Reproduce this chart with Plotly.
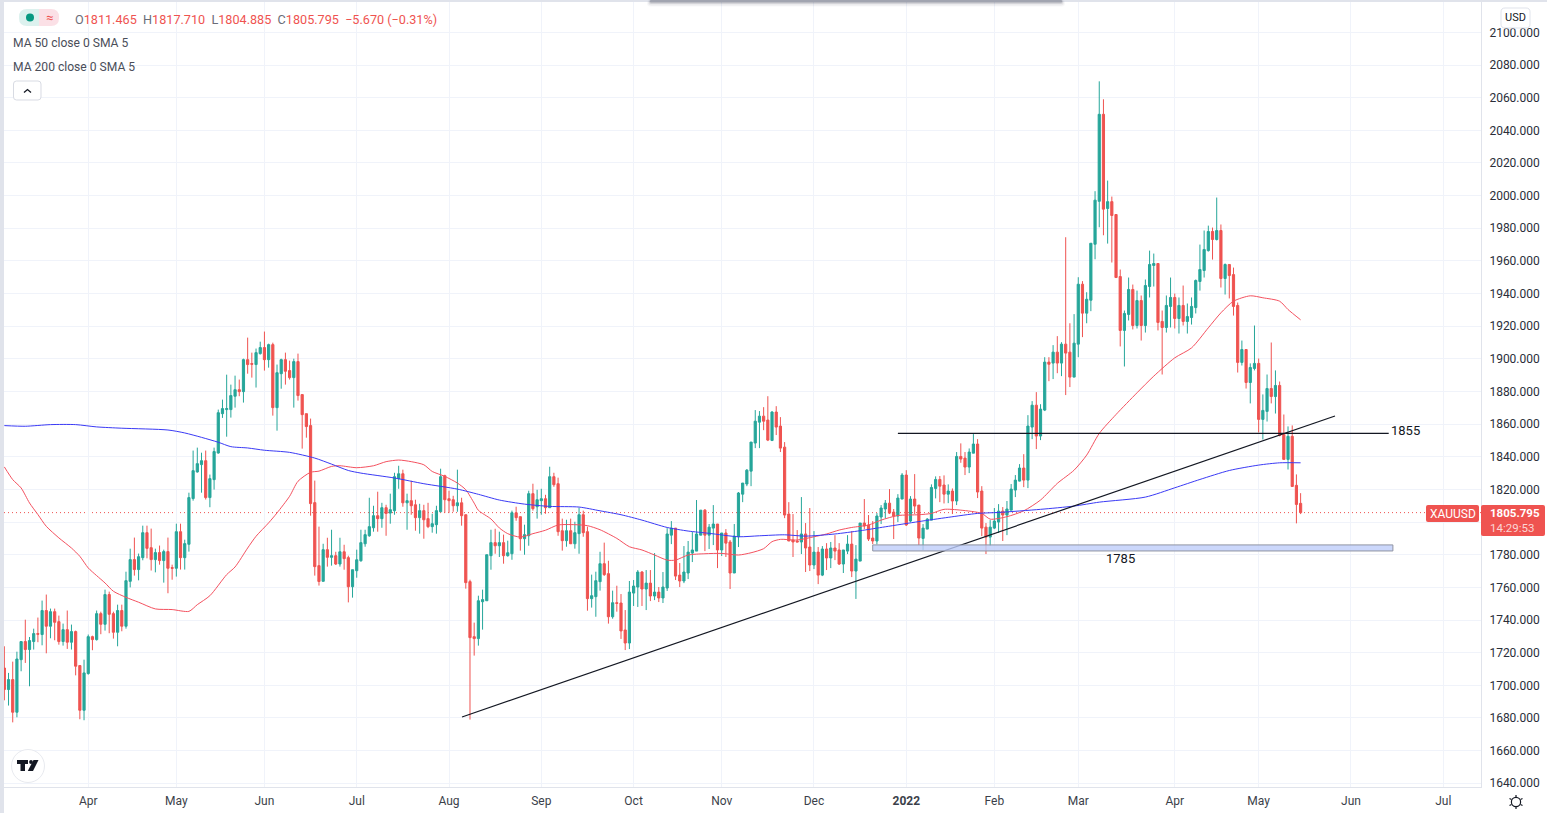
import numpy as np
import plotly.graph_objects as go

# ---- data: daily XAUUSD sessions ----
opens = [
1710.6,1697.4,1703.5,1683.5,1715.7,1726.8,1721.9,1726.8,1731.7,1731.1,
1745.8,1736.2,1745.1,1739.0,1726.8,1734.1,1726.4,1732.9,1712.1,1684.7,
1707.2,1729.8,1728.0,1743.9,1737.4,1755.6,1743.9,1732.5,1745.8,1736.2,
1763.7,1777.0,1770.9,1778.2,1793.5,1784.3,1777.0,1781.3,1776.4,1781.9,
1772.1,1771.7,1794.1,1778.2,1786.4,1814.4,1830.7,1835.2,1837.6,1815.0,
1826.0,1842.3,1866.4,1868.9,1868.9,1877.1,1881.1,1879.9,1899.5,1897.1,
1896.5,1903.2,1906.9,1899.5,1908.7,1870.1,1890.9,1899.5,1892.8,1888.5,
1898.3,1878.1,1866.4,1859.1,1811.9,1773.3,1763.7,1783.1,1778.4,1779.4,
1774.3,1781.8,1778.2,1760.4,1770.2,1776.3,1786.7,1791.6,1796.5,1803.9,
1802.1,1808.8,1805.5,1807.0,1826.5,1829.6,1811.8,1813.1,1810.6,1802.7,
1807.0,1802.1,1797.2,1798.4,1806.3,1828.4,1814.3,1813.7,1810.0,1811.8,
1804.5,1763.5,1729.8,1728.6,1751.2,1751.8,1779.4,1787.4,1785.5,1787.4,
1779.4,1780.6,1805.7,1803.3,1789.8,1791.6,1817.4,1809.4,1813.1,1814.3,
1808.8,1827.8,1823.5,1794.7,1788.6,1794.7,1786.7,1792.9,1804.5,1794.1,
1753.1,1754.3,1763.5,1774.5,1768.4,1742.0,1750.6,1750.4,1733.9,1725.9,
1756.5,1760.2,1769.4,1759.0,1762.6,1754.7,1757.1,1753.5,1759.6,1792.0,
1796.3,1767.5,1763.9,1768.8,1781.0,1782.2,1792.0,1807.3,1792.0,1796.3,
1798.8,1782.9,1793.3,1787.8,1768.8,1791.0,1817.1,1823.3,1831.2,1848.4,
1861.2,1864.9,1862.5,1850.0,1867.4,1858.8,1845.9,1804.9,1789.0,1788.4,
1787.8,1792.7,1784.7,1773.7,1781.6,1767.5,1783.5,1778.0,1784.1,1782.9,
1774.3,1782.2,1786.5,1770.0,1776.1,1799.4,1798.2,1790.2,1788.4,1803.1,
1808.0,1811.6,1806.1,1803.7,1814.1,1828.8,1800.6,1814.1,1810.4,1790.0,
1795.7,1801.2,1820.6,1826.1,1822.7,1817.1,1819.0,1812.9,1840.2,1839.2,
1833.7,1842.2,1847.8,1819.0,1796.9,1790.8,1796.3,1800.0,1806.7,1804.3,
1807.3,1819.6,1825.1,1833.1,1825.7,1858.2,1871.6,1852.7,1868.6,1898.0,
1897.4,1904.1,1897.4,1909.0,1904.1,1888.8,1909.0,1945.7,1928.0,1935.9,
1970.2,1996.5,2049.8,1992.1,1996.3,1988.4,1950.4,1917.4,1927.2,1942.5,
1920.4,1935.7,1920.4,1944.3,1957.2,1958.4,1922.9,1919.2,1932.1,1937.6,
1924.7,1932.7,1922.9,1925.3,1931.4,1947.4,1954.1,1966.3,1978.0,1973.1,
1978.6,1949.2,1957.8,1951.6,1932.7,1897.8,1905.7,1885.5,1894.1,1897.2,
1862.9,1867.8,1881.8,1876.9,1883.7,1853.7,1838.4,1852.5,1822.5,1811.465,
]
highs = [
1723.9,1707.6,1714.5,1720.6,1726.8,1740.2,1729.6,1734.7,1741.5,1751.9,
1755.6,1747.0,1747.0,1742.7,1737.8,1745.8,1737.2,1733.5,1712.1,1715.7,
1731.1,1730.4,1745.8,1745.1,1758.6,1757.4,1745.1,1749.4,1749.4,1769.6,
1783.7,1790.5,1780.7,1797.8,1797.8,1796.0,1783.7,1785.6,1783.1,1790.5,
1773.9,1799.0,1799.0,1789.2,1818.0,1843.8,1845.6,1842.5,1843.8,1829.1,
1845.6,1868.9,1875.0,1890.3,1884.2,1889.7,1887.3,1900.1,1913.0,1903.8,
1906.3,1910.5,1916.7,1909.3,1909.9,1896.5,1900.1,1903.8,1898.9,1900.1,
1903.2,1878.1,1866.4,1863.4,1825.4,1797.2,1786.7,1790.4,1795.3,1781.8,
1790.4,1786.1,1779.4,1770.8,1783.1,1795.3,1795.3,1814.9,1810.0,1818.6,
1811.8,1810.6,1817.4,1830.2,1834.5,1832.1,1817.4,1825.3,1813.7,1811.2,
1810.6,1811.8,1805.1,1810.0,1832.7,1829.0,1819.2,1816.1,1832.1,1814.9,
1804.5,1764.7,1738.4,1754.9,1758.6,1780.0,1795.3,1795.9,1794.1,1792.3,
1788.6,1807.0,1809.4,1803.3,1798.4,1819.2,1823.5,1819.8,1820.4,1816.7,
1833.9,1830.2,1827.2,1802.1,1801.4,1802.1,1800.2,1808.8,1807.0,1797.2,
1767.8,1769.6,1781.8,1787.4,1776.3,1758.0,1761.0,1755.9,1746.1,1763.9,
1764.5,1770.6,1770.0,1770.6,1770.6,1781.0,1760.2,1769.4,1796.3,1800.6,
1796.3,1774.9,1785.3,1788.4,1793.9,1813.5,1807.3,1808.0,1798.8,1810.4,
1798.8,1793.3,1795.7,1789.0,1798.8,1818.4,1823.9,1832.5,1849.0,1868.6,
1868.0,1870.4,1877.1,1868.0,1871.0,1864.3,1849.0,1812.2,1804.9,1795.1,
1815.3,1799.4,1808.6,1794.5,1784.7,1785.3,1787.1,1787.8,1792.0,1787.1,
1782.9,1792.0,1794.5,1785.9,1799.4,1814.1,1804.3,1800.6,1805.5,1810.4,
1813.5,1820.2,1808.0,1817.1,1830.0,1831.8,1815.9,1829.4,1810.4,1798.8,
1802.4,1823.1,1828.0,1828.2,1828.6,1823.1,1820.6,1842.9,1848.2,1842.9,
1845.1,1853.9,1850.8,1822.0,1799.4,1801.2,1808.6,1811.0,1809.2,1812.9,
1823.3,1828.8,1835.5,1841.6,1865.5,1874.1,1879.6,1872.2,1901.0,1901.0,
1908.4,1913.9,1910.2,1974.5,1921.8,1927.4,1950.0,1947.6,1940.8,1970.8,
2002.7,2070.0,2059.0,2009.2,1999.4,1988.4,1954.7,1929.6,1949.8,1945.5,
1941.8,1938.8,1948.6,1966.3,1964.5,1958.4,1929.6,1938.8,1949.8,1940.0,
1937.6,1944.9,1933.9,1937.6,1948.6,1970.0,1978.6,1981.6,1980.4,1998.8,
1982.3,1958.4,1957.8,1955.9,1934.5,1911.2,1905.7,1897.2,1920.4,1900.2,
1878.2,1890.4,1910.0,1892.9,1886.1,1865.9,1858.6,1859.2,1829.2,1817.71,
]
lows = [
1690.8,1687.6,1677.3,1680.4,1708.6,1713.7,1699.4,1721.9,1726.4,1724.5,
1719.6,1728.8,1727.6,1724.9,1724.3,1722.3,1721.9,1706.1,1679.2,1678.6,
1706.5,1721.5,1727.4,1731.3,1733.5,1731.9,1728.6,1723.9,1733.1,1734.7,
1760.0,1767.2,1764.3,1776.6,1777.8,1770.3,1769.2,1773.9,1762.9,1756.4,
1764.7,1766.6,1770.9,1770.9,1781.9,1813.1,1830.3,1818.0,1813.8,1809.1,
1819.9,1841.9,1863.8,1852.3,1864.0,1870.1,1877.1,1873.2,1890.9,1888.5,
1882.4,1902.6,1892.8,1894.6,1865.2,1856.0,1881.7,1884.2,1887.3,1870.1,
1874.4,1845.0,1851.7,1803.9,1767.2,1761.1,1763.7,1772.7,1773.3,1773.7,
1772.7,1770.8,1750.8,1753.7,1765.9,1775.7,1784.9,1791.0,1794.1,1794.1,
1796.5,1791.6,1799.0,1804.5,1820.4,1809.4,1795.3,1804.5,1794.7,1792.9,
1789.8,1796.3,1793.5,1792.9,1806.3,1805.7,1805.7,1806.3,1806.3,1797.8,
1759.2,1679.0,1718.2,1724.3,1734.1,1751.8,1770.8,1780.6,1778.6,1774.5,
1778.8,1776.9,1800.8,1782.5,1780.0,1785.5,1807.0,1802.1,1804.5,1805.1,
1808.8,1821.6,1791.6,1782.5,1784.9,1786.7,1783.7,1780.6,1791.0,1745.7,
1747.6,1742.0,1758.0,1767.0,1737.8,1740.8,1745.1,1728.4,1721.6,1722.2,
1748.6,1748.0,1748.6,1746.1,1751.6,1752.2,1751.0,1750.4,1757.8,1786.5,
1764.5,1760.2,1762.6,1765.1,1775.5,1782.2,1792.0,1782.2,1783.5,1785.9,
1771.8,1779.2,1778.6,1759.0,1768.8,1784.7,1812.2,1822.0,1822.0,1845.3,
1845.3,1856.3,1849.6,1849.6,1853.3,1842.9,1802.4,1788.4,1778.6,1787.8,
1780.4,1769.4,1770.0,1771.2,1762.0,1766.9,1770.6,1771.8,1776.7,1773.7,
1768.8,1780.4,1766.3,1752.9,1776.1,1795.7,1788.4,1786.5,1786.3,1798.8,
1802.2,1804.9,1789.6,1800.0,1814.1,1797.6,1800.0,1804.9,1785.9,1782.9,
1795.7,1801.2,1814.5,1812.2,1811.4,1811.6,1804.9,1810.4,1836.3,1828.8,
1830.0,1842.2,1814.7,1791.4,1780.4,1785.3,1795.7,1793.3,1788.4,1792.0,
1807.3,1815.3,1824.9,1821.4,1820.8,1850.8,1844.7,1850.2,1868.0,1886.3,
1887.6,1891.2,1889.4,1877.8,1882.7,1888.8,1901.0,1913.3,1921.8,1929.2,
1961.0,1980.6,1975.7,1970.6,1959.0,1949.8,1907.6,1895.3,1923.5,1918.0,
1918.6,1911.2,1916.1,1937.6,1944.3,1917.4,1890.4,1916.1,1919.2,1918.6,
1915.5,1920.4,1915.5,1921.0,1927.8,1941.8,1949.8,1965.7,1960.8,1972.5,
1943.7,1939.4,1937.0,1926.5,1891.6,1895.9,1881.8,1872.7,1892.9,1854.9,
1850.6,1861.6,1872.7,1866.5,1852.5,1838.4,1832.2,1821.8,1799.2,1804.885,
]
closes = [
1697.4,1703.5,1683.5,1716.1,1726.8,1721.9,1727.4,1731.7,1731.3,1745.8,
1736.2,1745.1,1738.6,1726.8,1734.1,1726.4,1732.9,1711.7,1684.7,1707.6,
1729.8,1728.0,1743.9,1737.4,1755.6,1743.5,1732.5,1745.8,1736.2,1764.1,
1777.0,1770.9,1778.8,1793.5,1783.9,1777.0,1781.3,1776.4,1781.9,1771.7,
1771.7,1794.1,1778.2,1786.8,1815.0,1831.5,1835.8,1837.6,1815.0,1826.6,
1843.2,1867.0,1869.5,1869.5,1877.5,1881.1,1879.9,1899.5,1896.5,1896.7,
1903.8,1906.9,1899.5,1908.7,1870.1,1891.5,1899.5,1892.4,1888.5,1898.3,
1877.5,1865.8,1858.5,1811.3,1772.7,1763.6,1783.1,1778.4,1779.4,1774.3,
1781.8,1777.6,1760.4,1770.8,1776.9,1787.4,1792.3,1797.2,1803.9,1802.1,
1808.8,1805.3,1807.6,1827.8,1829.6,1811.8,1813.1,1810.0,1802.7,1807.0,
1801.4,1797.2,1799.0,1807.0,1827.8,1813.7,1813.1,1810.0,1811.8,1803.9,
1762.9,1729.2,1728.6,1751.8,1752.5,1780.0,1787.4,1785.5,1787.4,1779.4,
1781.2,1805.7,1802.7,1789.8,1792.3,1817.4,1808.2,1813.7,1814.3,1808.8,
1827.8,1822.9,1794.1,1788.6,1794.7,1786.7,1793.5,1804.5,1793.5,1753.1,
1754.9,1764.1,1774.5,1767.8,1742.0,1750.6,1750.2,1733.3,1725.9,1757.1,
1760.8,1769.4,1759.0,1762.6,1754.7,1757.1,1753.5,1760.2,1792.7,1796.3,
1766.9,1763.9,1769.4,1781.6,1782.9,1792.7,1807.3,1792.0,1796.9,1798.8,
1782.9,1793.3,1787.1,1768.8,1791.4,1817.8,1823.9,1831.8,1849.0,1861.8,
1864.9,1861.8,1850.2,1867.4,1858.2,1845.3,1804.3,1788.4,1787.8,1787.8,
1792.7,1784.1,1773.7,1781.6,1767.5,1783.5,1778.0,1784.1,1782.2,1774.3,
1782.9,1786.5,1770.0,1777.3,1799.4,1797.6,1789.6,1788.4,1803.7,1808.6,
1811.6,1805.5,1803.7,1814.7,1828.8,1798.2,1814.1,1809.8,1790.2,1796.3,
1801.8,1821.2,1826.1,1822.0,1817.1,1819.0,1812.9,1840.2,1838.6,1833.7,
1842.9,1847.8,1818.4,1796.3,1790.8,1796.9,1800.6,1806.7,1804.3,1808.0,
1820.2,1825.7,1833.1,1825.7,1858.8,1871.6,1852.7,1869.2,1898.0,1896.7,
1904.1,1897.4,1909.0,1903.5,1888.8,1909.6,1945.7,1928.0,1936.5,1970.8,
1997.2,2049.8,1991.7,1996.3,1987.8,1949.8,1917.4,1927.8,1942.5,1920.4,
1935.7,1920.4,1944.9,1957.8,1958.4,1922.3,1919.2,1932.7,1937.6,1924.7,
1932.7,1922.9,1925.9,1932.1,1948.0,1954.7,1967.0,1978.0,1973.1,1978.6,
1949.2,1957.8,1951.0,1932.1,1897.8,1905.7,1885.5,1894.7,1897.2,1862.9,
1868.4,1881.8,1876.9,1883.7,1853.1,1838.4,1852.5,1821.8,1810.8,1805.795,
]
sessions = list(range(len(closes)))

ma50_sessions = [0,2,4,6,8,10,13,16,18,20,22,24,26,29,32,36,40,44,46,49,53,55,58,60,63,65,68,70,73,75,78,80,84,88,91,94,97,100,102,105,108,110,112,113,116,118,120,123,126,129,132,136,139,142,146,149,152,155,158,160,163,167,171,175,178,181,183,185,189,193,196,199,202,206,209,213,218,221,224,228,233,235,239,243,247,251,255,258,261,265,270,274,279,283,287,290,293,297,300,304,306,309]
ma50_values = [1833.8,1826.0,1820.9,1811.7,1804.6,1797.4,1790.3,1784.1,1779.0,1771.9,1767.2,1762.7,1757.6,1753.9,1750.9,1746.8,1746.4,1745.3,1749.4,1754.9,1767.8,1772.5,1784.1,1791.3,1799.5,1805.6,1815.8,1825.0,1830.5,1831.2,1834.1,1834.5,1833.3,1834.5,1837.0,1838.0,1837.0,1835.1,1831.0,1828.0,1823.9,1819.8,1811.6,1807.2,1801.9,1796.4,1792.9,1790.8,1792.9,1795.0,1798.2,1798.4,1797.8,1795.3,1790.0,1784.9,1782.9,1779.8,1776.7,1776.7,1779.8,1780.6,1780.8,1779.8,1781.2,1783.7,1788.0,1789.4,1789.0,1791.0,1792.7,1795.1,1796.7,1798.2,1801.2,1804.0,1804.5,1805.3,1807.8,1807.3,1805.3,1801.8,1803.3,1806.9,1813.5,1823.7,1831.8,1841.0,1854.3,1865.9,1879.2,1889.4,1900.6,1906.7,1919.0,1928.2,1935.3,1938.6,1937.4,1935.3,1930.2,1923.9]

ma200_sessions = [0,5,11,17,22,28,39,43,47,51,54,58,62,68,74,78,82,85,93,100,108,113,118,124,130,137,142,147,152,158,163,168,175,180,186,191,198,204,210,218,225,232,237,247,255,261,272,279,285,292,299,304,309]
ma200_values = [1859.1,1858.7,1859.7,1859.7,1858.3,1857.5,1856.4,1854.6,1851.9,1848.9,1846.2,1845.4,1844.0,1842.7,1839.2,1835.5,1831.6,1830.0,1827.0,1823.5,1820.2,1817.0,1813.5,1811.0,1809.6,1809.2,1806.9,1804.5,1801.2,1796.7,1794.5,1793.1,1791.0,1791.6,1792.2,1791.4,1792.7,1794.7,1797.1,1800.3,1802.9,1805.3,1805.9,1807.8,1809.8,1812.2,1815.3,1821.0,1826.1,1831.6,1834.9,1836.3,1836.3]

month_sessions = [20,41,62,84,106,128,150,171,193,215,236,256,279,299,321,343]
month_labels = ["Apr","May","Jun","Jul","Aug","Sep","Oct","Nov","Dec","<b>2022</b>","Feb","Mar","Apr","May","Jun","Jul"]
price_ticks = list(range(1640, 2101, 20))

support_level = 1855
support_label = "1855"
zone_low, zone_high = 1782.3, 1786.0
zone_label = "1785"
last_price = 1805.795

# ---- layout geometry (pixels of the 1547x813 page) ----
W, H = 1547, 813
L, R, T, B = 4, 1481, 2, 787
FONT = "Roboto, sans-serif"
def px(v): return (v - L) / (R - L)
def py(v): return 1 - (v - T) / (B - T)

UP, DOWN = "#26a69a", "#ef5350"
TXT = "#131722"
GREY = "#6a6d78"

fig = go.Figure()
fig.add_trace(go.Candlestick(
    x=sessions, open=opens, high=highs, low=lows, close=closes,
    increasing=dict(line=dict(color=UP, width=1), fillcolor=UP),
    decreasing=dict(line=dict(color=DOWN, width=1), fillcolor=DOWN),
    whiskerwidth=0, showlegend=False, hoverinfo="skip"))
fig.add_trace(go.Scatter(x=ma50_sessions, y=ma50_values, mode="lines", showlegend=False,
                         line=dict(color="#f4515f", width=1, shape="spline", smoothing=0.7), hoverinfo="skip"))
fig.add_trace(go.Scatter(x=ma200_sessions, y=ma200_values, mode="lines", showlegend=False,
                         line=dict(color="#3a3af5", width=1, shape="spline", smoothing=0.7), hoverinfo="skip"))

def paper_rect(x0, y0, x1, y1, **kw):
    return dict(type="rect", xref="paper", yref="paper", x0=px(x0), x1=px(x1), y0=py(y0), y1=py(y1), **kw)

def paper_path(points, close=True, **kw):
    d = "M " + " L ".join(f"{px(a):.5f} {py(b):.5f}" for a, b in points) + (" Z" if close else "")
    return dict(type="path", xref="paper", yref="paper", path=d, **kw)

def paper_circle(cx, cy, r, **kw):
    return dict(type="circle", xref="paper", yref="paper", x0=px(cx - r), x1=px(cx + r),
                y0=py(cy + r), y1=py(cy - r), **kw)

def round_rect(x0, y0, x1, y1, r, **kw):
    pts = [("M", x0 + r, y0), ("L", x1 - r, y0), ("Q", x1, y0, x1, y0 + r), ("L", x1, y1 - r),
           ("Q", x1, y1, x1 - r, y1), ("L", x0 + r, y1), ("Q", x0, y1, x0, y1 - r), ("L", x0, y0 + r),
           ("Q", x0, y0, x0 + r, y0)]
    d = ""
    for p in pts:
        coords = p[1:]
        d += p[0] + " " + " ".join(f"{px(coords[i]):.5f} {py(coords[i + 1]):.5f}" for i in range(0, len(coords), 2)) + " "
    return dict(type="path", xref="paper", yref="paper", path=d + "Z", **kw)

noline = dict(width=0)
shapes = [
    # page frame
    paper_rect(0, 0, 4, H, fillcolor="#e0e3eb", line=noline, layer="below"),
    paper_rect(0, 0, W, 2, fillcolor="#e0e3eb", line=noline, layer="below"),
    # panel shadow at the top
    round_rect(647, 0, 1065, 6.5, 3, fillcolor="rgba(70,73,90,0.04)", line=noline),
    round_rect(648, 0, 1064, 5.5, 3, fillcolor="rgba(70,73,90,0.07)", line=noline),
    round_rect(649, 0, 1063, 4, 2, fillcolor="rgba(70,73,90,0.14)", line=noline),
    round_rect(650, 0, 1062, 2.8, 1, fillcolor="rgba(70,73,90,0.22)", line=noline),
    # last price line
    dict(type="line", xref="paper", yref="y", x0=0, x1=1, y0=last_price, y1=last_price,
         line=dict(color=DOWN, width=1, dash="1px,3px"), layer="below"),
    # drawings
    dict(type="line", xref="x", yref="y", x0=109.1, x1=317.2, y0=1680.6, y1=1865.0,
         line=dict(color="#131722", width=1.2)),
    dict(type="line", xref="x", yref="y", x0=213, x1=330, y0=support_level - 0.7, y1=support_level - 0.7,
         line=dict(color="#131722", width=1.2)),
    dict(type="rect", xref="x", yref="y", x0=207, x1=331, y0=zone_low, y1=zone_high,
         fillcolor="rgba(190,205,250,0.8)", line=dict(color="#8f93a2", width=1)),
    # price tags
    round_rect(1426, 505, 1479, 522, 2, fillcolor=DOWN, line=noline),
    round_rect(1481, 505, 1545, 536, 2, fillcolor=DOWN, line=noline),
    # legend pill
    round_rect(19, 9, 50, 26, 8, fillcolor="#dcf1ee", line=noline),
    round_rect(30, 9, 59, 26, 8, fillcolor="#fbe0e6", line=noline),
    paper_rect(27, 9, 39, 26, fillcolor="#dcf1ee", line=noline),
    paper_circle(30, 17.5, 4, fillcolor="#089981", line=noline),
    # collapse button
    round_rect(13.5, 81, 41, 100, 3, fillcolor="white", line=dict(color="#d8dbe3", width=1)),
    paper_path([(24, 92.5), (27.5, 89.5), (31, 92.5)], close=False, line=dict(color=TXT, width=1.3)),
    # USD button
    round_rect(1501, 8, 1530, 28, 4, fillcolor="white", line=dict(color="#e0e3eb", width=1)),
    # logo
    paper_circle(28, 766, 16.5, fillcolor="white", line=dict(color="#e8eaef", width=1)),
    paper_path([(17, 760), (28, 760), (28, 764), (25, 764), (25, 771), (20.5, 771), (20.5, 764), (17, 764)],
               fillcolor=TXT, line=noline),
    paper_circle(31, 762, 1.9, fillcolor=TXT, line=noline),
    paper_path([(33.5, 760), (38.5, 760), (33, 771), (27.8, 771)], fillcolor=TXT, line=noline),
    # settings gear
    paper_circle(1516, 802, 4.6, fillcolor="white", line=dict(color=TXT, width=1.2)),
    paper_path([(1516, 795), (1516, 797)], close=False, line=dict(color=TXT, width=1.2)),
    paper_path([(1516, 807), (1516, 809)], close=False, line=dict(color=TXT, width=1.2)),
    paper_path([(1509.5, 798.5), (1511.5, 799.5)], close=False, line=dict(color=TXT, width=1.2)),
    paper_path([(1520.5, 804.5), (1522.5, 805.5)], close=False, line=dict(color=TXT, width=1.2)),
    paper_path([(1522.5, 798.5), (1520.5, 799.5)], close=False, line=dict(color=TXT, width=1.2)),
    paper_path([(1511.5, 804.5), (1509.5, 805.5)], close=False, line=dict(color=TXT, width=1.2)),
]

def label(x, y, text, size=12, color=TXT, anchor="left"):
    return dict(xref="paper", yref="paper", x=px(x), y=py(y), text=text, showarrow=False,
                xanchor=anchor, yanchor="middle", align="left",
                font=dict(family=FONT, size=size, color=color), borderpad=0, borderwidth=0)

def ohlc(name, value):
    return f'<span style="color:{GREY}">{name}</span><span style="color:{DOWN}">{value}</span>'

header = "  ".join([ohlc("O", "1811.465"), ohlc("H", "1817.710"), ohlc("L", "1804.885"), ohlc("C", "1805.795")]) \
    + f'<span style="color:{DOWN}">  \u22125.670 (\u22120.31%)</span>'

price_tag = '<b>1805.795</b><br><span style="color:#fbd5d5">14:29:53</span>'

annotations = [
    label(75, 19.5, header, size=12.65),
    label(13, 43, "MA 50 close 0 SMA 5", size=12.1, color="#4a4e59"),
    label(13, 67, "MA 200 close 0 SMA 5", size=12.1, color="#4a4e59"),
    label(49, 17.5, "\u2248", size=13, color=DOWN, anchor="center"),
    label(1515.5, 18, "USD", size=11, color=TXT, anchor="center"),
    label(1452.5, 514, "XAUUSD", size=12, color="white", anchor="center"),
    label(1514.5, 520.5, price_tag, size=11.5, color="white", anchor="center"),
    dict(xref="x", yref="y", x=334.1, y=1856.4, text=support_label, showarrow=False,
         font=dict(family=FONT, size=13, color=TXT)),
    dict(xref="x", yref="y", x=266, y=1777.4, text=zone_label, showarrow=False,
         font=dict(family=FONT, size=13, color=TXT)),
]

fig.update_layout(
    width=W, height=H, autosize=False,
    margin=dict(l=L, r=W - R, t=T, b=H - B, pad=0),
    paper_bgcolor="white", plot_bgcolor="white",
    font=dict(family=FONT, size=12, color=TXT),
    showlegend=False, boxgap=0.48, boxgroupgap=0,
    shapes=shapes, annotations=annotations,
    xaxis=dict(range=[-0.08, 352.0], rangeslider=dict(visible=False), tickmode="array",
               tickvals=month_sessions, ticktext=month_labels, showgrid=True, gridcolor="#f0f3fa",
               gridwidth=1, zeroline=False, showline=True, linecolor="#e0e3eb", linewidth=1,
               ticks="outside", ticklen=3, tickcolor="rgba(0,0,0,0)", tickangle=0,
               tickfont=dict(family=FONT, size=12, color="#3b3f4a")),
    yaxis=dict(range=[1637.7, 2118.6], side="right", tickmode="array", tickvals=price_ticks,
               ticktext=[f"{v:.3f}" for v in price_ticks], showgrid=True, gridcolor="#f0f3fa",
               gridwidth=1, zeroline=False, showline=True, linecolor="#e0e3eb", linewidth=1,
               ticks="outside", ticklen=5, tickcolor="rgba(0,0,0,0)",
               tickfont=dict(family=FONT, size=12, color="#2a2e39")),
)
assert len(opens) == len(highs) == len(lows) == len(closes) == 310

fig.write_html("out.html", config={"displayModeBar": False},
               post_script="document.body.style.margin='0';document.body.style.overflow='hidden';")
